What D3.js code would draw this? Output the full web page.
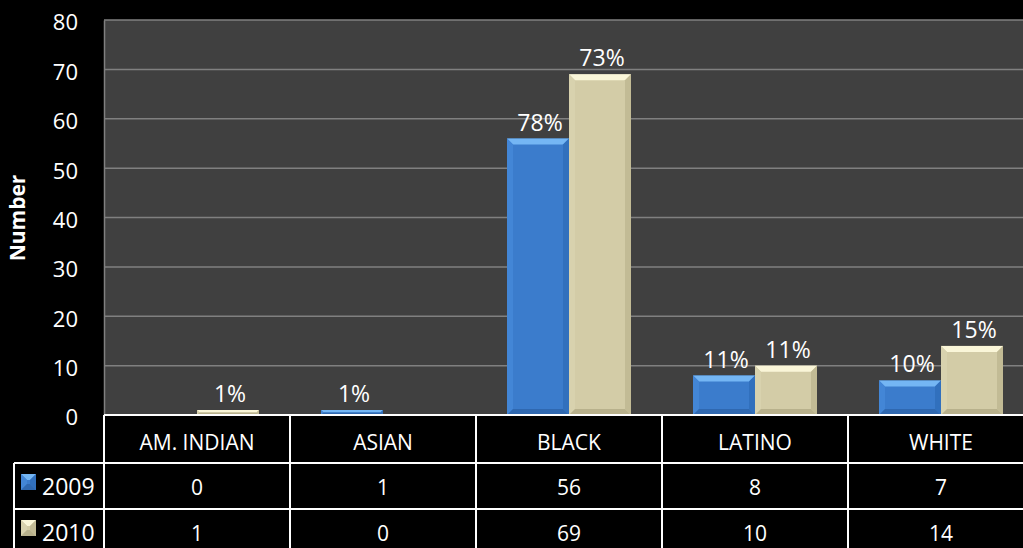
<!DOCTYPE html>
<html>
<head>
<meta charset="utf-8">
<script src="https://cdn.jsdelivr.net/npm/d3@7"></script>
<style>
  html, body { margin: 0; padding: 0; background: #000; }
  svg { display: block; }
  text { font-family: "Open Sans", "Noto Sans", sans-serif; fill: #fff; }
</style>
</head>
<body>
<svg id="chart" width="1023" height="548"></svg>
<script>
// Race / ethnicity counts by year
const categories = ["AM. INDIAN", "ASIAN", "BLACK", "LATINO", "WHITE"];
const seriesNames = ["2009", "2010"];
const values2009 = [0, 1, 56, 8, 7];
const values2010 = [1, 0, 69, 10, 14];
const pct2009 = ["", "1%", "78%", "11%", "10%"];
const pct2010 = ["1%", "", "73%", "11%", "15%"];
const yTicks = [0, 10, 20, 30, 40, 50, 60, 70, 80];

const seriesValues = [values2009, values2010];
const seriesPct = [pct2009, pct2010];

const palette = {
  "2009": { main: "#3b7ccc", top: "#74b6f4", left: "#4386d6", right: "#3170bd", bottom: "#2f68b0" },
  "2010": { main: "#d3cca7", top: "#faf6d8", left: "#d8d2ae", right: "#c2bb95", bottom: "#b8b18c" }
};

const svg = d3.select("#chart");

const plot = { left: 104, top: 20, bottom: 415 };
const bandW = 186;
const plotRight = plot.left + bandW * categories.length;

const x = d3.scaleBand().domain(categories).range([plot.left, plotRight]).padding(0);
const xs = d3.scaleBand().domain(seriesNames).range([bandW / 6, bandW * 5 / 6]).padding(0);
const y = d3.scaleLinear().domain([0, 80]).range([plot.bottom, plot.top]);

// plot background
svg.append("rect")
  .attr("x", plot.left).attr("y", plot.top)
  .attr("width", plotRight - plot.left).attr("height", plot.bottom - plot.top)
  .attr("fill", "#404040");

// horizontal gridlines
svg.append("g").selectAll("line").data(yTicks.filter(t => t > 0)).join("line")
  .attr("x1", plot.left).attr("x2", plotRight)
  .attr("y1", d => y(d)).attr("y2", d => y(d))
  .attr("stroke", "#808080").attr("stroke-width", 1.5);

// y axis
const yAxis = d3.axisLeft(y).tickValues(yTicks).tickSize(0).tickPadding(26);
const gy = svg.append("g").attr("transform", `translate(${plot.left},0)`).call(yAxis);
gy.select(".domain").attr("stroke", "#808080").attr("stroke-width", 1.5);
gy.selectAll("text")
  .style("font-size", "22px")
  .attr("fill", "#fff")
  .attr("dy", "0.45em");

// axis title
svg.append("text")
  .attr("transform", "translate(25,218) rotate(-90)")
  .attr("text-anchor", "middle")
  .style("font-size", "21px")
  .style("font-weight", "bold")
  .text("Number");

// beveled bar
function bevelBar(g, x0, y0, w, h, c) {
  if (h <= 0) return;
  const b = Math.min(6, h / 2, w / 2);
  const x1 = x0 + w, y1 = y0 + h;
  g.append("rect").attr("x", x0).attr("y", y0).attr("width", w).attr("height", h).attr("fill", c.main);
  const poly = (pts, fill) => g.append("polygon").attr("points", pts.map(p => p.join(",")).join(" ")).attr("fill", fill);
  poly([[x0, y0], [x1, y0], [x1 - b, y0 + b], [x0 + b, y0 + b]], c.top);
  poly([[x0, y0], [x0 + b, y0 + b], [x0 + b, y1 - b], [x0, y1]], c.left);
  poly([[x1, y0], [x1, y1], [x1 - b, y1 - b], [x1 - b, y0 + b]], c.right);
  poly([[x0, y1], [x0 + b, y1 - b], [x1 - b, y1 - b], [x1, y1]], c.bottom);
}

const barsG = svg.append("g");
seriesNames.forEach((s, si) => {
  categories.forEach((cat, ci) => {
    const v = seriesValues[si][ci];
    const bx = x(cat) + xs(s);
    bevelBar(barsG, bx, y(v), xs.bandwidth(), y(0) - y(v), palette[s]);
  });
});

// percentage labels
const labelsG = svg.append("g");
seriesNames.forEach((s, si) => {
  categories.forEach((cat, ci) => {
    const label = seriesPct[si][ci];
    if (!label) return;
    const v = seriesValues[si][ci];
    labelsG.append("text")
      .attr("x", x(cat) + xs(s) + xs.bandwidth() / 2 + 2)
      .attr("y", y(v) - 8)
      .attr("text-anchor", "middle")
      .style("font-size", "23px")
      .text(label);
  });
});

// data table
const table = { left: 14, head: 415, row1: 463, row2: 509, bottom: 560 };
const tg = svg.append("g");
const lineAttr = sel => sel.attr("stroke", "#ffffff").attr("stroke-width", 2);

tg.append("line").call(lineAttr)
  .attr("x1", plot.left).attr("x2", 1023).attr("y1", table.head).attr("y2", table.head);
[table.row1, table.row2].forEach(yy => {
  tg.append("line").call(lineAttr)
    .attr("x1", table.left).attr("x2", 1023).attr("y1", yy).attr("y2", yy);
});
tg.append("line").call(lineAttr)
  .attr("x1", table.left).attr("x2", table.left).attr("y1", table.row1).attr("y2", table.bottom);
categories.forEach(cat => {
  tg.append("line").call(lineAttr)
    .attr("x1", x(cat)).attr("x2", x(cat)).attr("y1", table.head).attr("y2", table.bottom);
});
tg.append("line").call(lineAttr)
  .attr("x1", plotRight).attr("x2", plotRight).attr("y1", table.head).attr("y2", table.bottom);

// header: category names
tg.selectAll("text.cat").data(categories).join("text")
  .attr("class", "cat")
  .attr("x", d => x(d) + bandW / 2)
  .attr("y", (table.head + table.row1) / 2 + 5)
  .attr("text-anchor", "middle")
  .attr("dominant-baseline", "middle")
  .style("font-size", "21px")
  .text(d => d);

// value rows with legend keys
const rowTops = [table.row1, table.row2];
seriesNames.forEach((s, si) => {
  const cy = rowTops[si] + 26;
  bevelBar(tg, 21, rowTops[si] + 11, 15, 16, palette[s]);
  tg.append("text")
    .attr("x", 42).attr("y", cy)
    .attr("dominant-baseline", "middle")
    .style("font-size", "23px")
    .text(s);
  categories.forEach((cat, ci) => {
    tg.append("text")
      .attr("x", x(cat) + bandW / 2)
      .attr("y", cy)
      .attr("text-anchor", "middle")
      .attr("dominant-baseline", "middle")
      .style("font-size", "21px")
      .text(seriesValues[si][ci]);
  });
});
</script>
</body>
</html>
